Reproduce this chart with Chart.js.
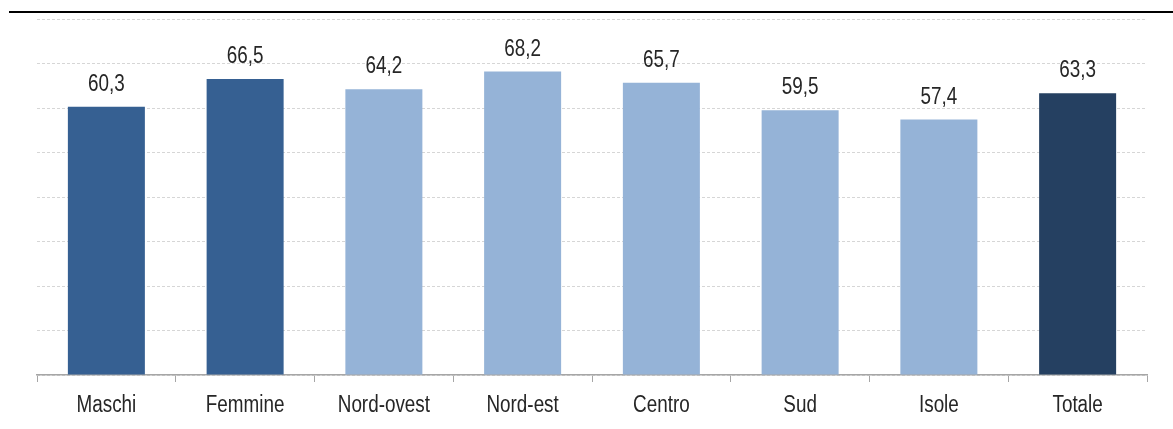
<!DOCTYPE html>
<html>
<head>
<meta charset="utf-8">
<script src="https://cdn.jsdelivr.net/npm/chart.js@4/dist/chart.umd.min.js"></script>
<style>
  html, body { margin: 0; padding: 0; background: #fff; }
  #wrap { width: 1173px; height: 429px; position: relative; }
</style>
</head>
<body>
<div id="wrap"><canvas id="barChart"></canvas></div>
<script>
const categories = ["Maschi", "Femmine", "Nord-ovest", "Nord-est", "Centro", "Sud", "Isole", "Totale"];
const values = [60.3, 66.5, 64.2, 68.2, 65.7, 59.5, 57.4, 63.3];
const barColors = ["#366092", "#366092", "#95B3D7", "#95B3D7", "#95B3D7", "#95B3D7", "#95B3D7", "#254061"];

const FONT = "'Liberation Sans', Arial, sans-serif";
const NARROW = 0.82; // squeeze to mimic Arial Narrow

function narrowText(ctx, text, x, y) {
  ctx.save();
  ctx.translate(x, y);
  ctx.scale(NARROW, 1);
  ctx.fillText(text, 0, 0);
  ctx.restore();
}

// black rule across the top, value labels above bars, category labels
const extras = {
  id: "extras",
  afterDraw(chart) {
    const ctx = chart.ctx;
    ctx.save();
    ctx.strokeStyle = "#000";
    ctx.lineWidth = 2;
    ctx.beginPath();
    ctx.moveTo(9, 12);
    ctx.lineTo(1173, 12);
    ctx.stroke();

    ctx.fillStyle = "#262626";
    ctx.font = "23px " + FONT;
    ctx.textAlign = "center";
    ctx.textBaseline = "alphabetic";
    const xs = chart.scales.x;
    chart.getDatasetMeta(0).data.forEach((bar, i) => {
      narrowText(ctx, values[i].toFixed(1).replace(".", ","), bar.x, bar.y - 16);
      narrowText(ctx, categories[i], xs.getPixelForValue(i), 412);
    });
    ctx.restore();
  }
};

const ctx = document.getElementById("barChart").getContext("2d");
new Chart(ctx, {
  type: "bar",
  data: {
    labels: categories,
    datasets: [{
      data: values,
      backgroundColor: barColors,
      borderWidth: 0,
      categoryPercentage: 1,
      barPercentage: 0.555
    }]
  },
  options: {
    responsive: true,
    maintainAspectRatio: false,
    animation: false,
    layout: { padding: { left: 37, right: 26, top: 19, bottom: 0 } },
    plugins: { legend: { display: false }, tooltip: { enabled: false } },
    scales: {
      x: {
        grid: { drawOnChartArea: false, color: "#a6a6a6", tickLength: 7, offset: true },
        border: { color: "#a6a6a6", width: 1.5 },
        ticks: { display: false },
        afterFit: (s) => { s.height = 54; }
      },
      y: {
        min: 0,
        max: 80,
        ticks: { display: false, stepSize: 10 },
        grid: { color: "#d6d6d6", drawTicks: false },
        border: { display: false, dash: [3, 2] }
      }
    }
  },
  plugins: [extras]
});
</script>
</body>
</html>
